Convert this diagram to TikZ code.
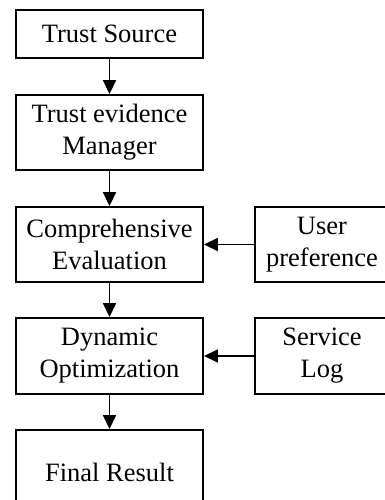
\documentclass[tikz,border=0pt]{standalone}
\usepackage{fontspec}
\setmainfont{Liberation Serif}
\usetikzlibrary{arrows.meta}
\begin{document}
\begin{tikzpicture}[x=1pt,y=1pt,
  box/.style={draw,line width=1.9pt,rectangle,inner sep=0pt,align=center,
    font=\fontsize{26.5}{32}\selectfont},
  flow/.style={line width=1.7pt,-{Triangle[length=14pt,width=13pt]}}]
\useasboundingbox (0,0) rectangle (385,-500);
\node[box,minimum width=187pt,minimum height=48pt] (ts) at (109.5,-34) {Trust Source};
\node[box,minimum width=187pt,minimum height=75pt] (tem) at (109.5,-132.5) {Trust evidence\\Manager};
\node[box,minimum width=187pt,minimum height=75pt] (ce) at (109.5,-244.5) {Comprehensive\\Evaluation};
\node[box,minimum width=187pt,minimum height=76pt] (do) at (109.5,-356) {Dynamic\\Optimization};
\node[box,minimum width=187pt,minimum height=84pt] (fr) at (109.5,-472) {Final Result};
\node[box,minimum width=134pt,minimum height=75pt] (up) at (322,-244.5) {User\\preference};
\node[box,minimum width=134pt,minimum height=76pt] (sl) at (322,-356) {Service\\Log};
\draw[flow] (ts) -- (tem);
\draw[flow] (tem) -- (ce);
\draw[flow] (ce) -- (do);
\draw[flow] (do) -- (fr);
\draw[flow] (up) -- (ce);
\draw[flow] (sl) -- (do);
\end{tikzpicture}
\end{document}
